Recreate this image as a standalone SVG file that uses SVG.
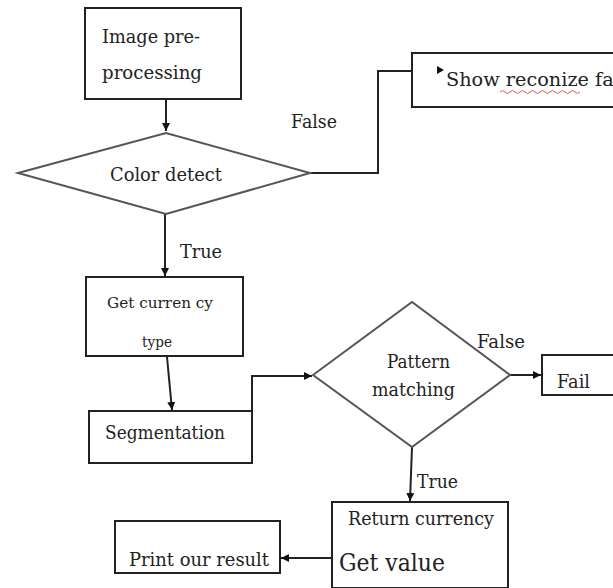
<svg xmlns="http://www.w3.org/2000/svg" width="613" height="588" viewBox="0 0 613 588">
<style>
.box{fill:#fff;stroke:#222;stroke-width:2}
.dia{fill:#fff;stroke:#555;stroke-width:2}
.ln{fill:none;stroke:#222;stroke-width:2}
.t{font-family:"DejaVu Serif","Liberation Serif",serif;font-size:18px;fill:#222}
</style>
<defs>
<marker id="ah" viewBox="0 0 10 10" refX="10" refY="5" markerWidth="8" markerHeight="8" markerUnits="userSpaceOnUse" orient="auto">
<path d="M0,0 L10,5 L0,10 z" fill="#111"/>
</marker>
</defs>
<rect width="613" height="588" fill="#fff"/>
<g id="connectors">
<path class="ln" d="M166,99 V131" marker-end="url(#ah)"/>
<path class="ln" d="M310,173 H378 V71 H412"/>
<path class="ln" d="M165,214 V276" marker-end="url(#ah)"/>
<path class="ln" d="M167,357 L172,410" marker-end="url(#ah)"/>
<path class="ln" d="M252,411 V376 H312" marker-end="url(#ah)"/>
<path class="ln" d="M510,375 H541" marker-end="url(#ah)"/>
<path class="ln" d="M412,447 L410,501" marker-end="url(#ah)"/>
<path class="ln" d="M332,558 H281" marker-end="url(#ah)"/>
<text class="t" x="291" y="128" textLength="46" lengthAdjust="spacingAndGlyphs">False</text>
<text class="t" x="180" y="258" textLength="42" lengthAdjust="spacingAndGlyphs">True</text>
<text class="t" x="477" y="348" textLength="48" lengthAdjust="spacingAndGlyphs">False</text>
<text class="t" x="417" y="488" textLength="41" lengthAdjust="spacingAndGlyphs">True</text>
</g>
<g id="preprocess">
<rect class="box" x="85" y="8" width="156" height="91"/>
<text class="t" x="102" y="43" textLength="98" lengthAdjust="spacingAndGlyphs">Image pre-</text>
<text class="t" x="102" y="79" textLength="100" lengthAdjust="spacingAndGlyphs">processing</text>
</g>
<g id="colordetect">
<polygon class="dia" points="18,173 166,133 310,173 166,214"/>
<text class="t" x="110" y="181" textLength="112" lengthAdjust="spacingAndGlyphs">Color detect</text>
</g>
<g id="showfail">
<rect class="box" x="412" y="53" width="210" height="54"/>
<polygon points="437,66 444,70 437,74" fill="#111"/>
<text class="t" x="446" y="86" textLength="180" lengthAdjust="spacingAndGlyphs">Show reconize fail</text>
<path d="M500,92 q2.5,-3 5,0 t5,0 t5,0 t5,0 t5,0 t5,0 t5,0 t5,0 t5,0 t5,0 t5,0 t5,0 t5,0 t5,0 t5,0 t5,0" fill="none" stroke="#d55" stroke-width="1"/>
</g>
<g id="currencytype">
<rect class="box" x="86" y="277" width="157" height="79"/>
<text class="t" x="107" y="308" style="font-size:15px" textLength="106" lengthAdjust="spacingAndGlyphs">Get  curren cy</text>
<text class="t" x="142" y="347" style="font-size:15px" textLength="30" lengthAdjust="spacingAndGlyphs">type</text>
</g>
<g id="segmentation">
<rect class="box" x="89" y="411" width="163" height="52"/>
<text class="t" x="105" y="439" textLength="120" lengthAdjust="spacingAndGlyphs">Segmentation</text>
</g>
<g id="pattern">
<polygon class="dia" points="313,375 412,302 510,375 412,447"/>
<text class="t" x="387" y="368" textLength="63" lengthAdjust="spacingAndGlyphs">Pattern</text>
<text class="t" x="372" y="396" textLength="83" lengthAdjust="spacingAndGlyphs">matching</text>
</g>
<g id="fail">
<rect class="box" x="542" y="355" width="80" height="40"/>
<text class="t" x="557" y="388" textLength="33" lengthAdjust="spacingAndGlyphs">Fail</text>
</g>
<g id="returncurrency">
<rect class="box" x="332" y="502" width="176" height="86"/>
<text class="t" x="348" y="525" textLength="146" lengthAdjust="spacingAndGlyphs">Return currency</text>
<text class="t" x="339" y="571" style="font-size:24px" textLength="106" lengthAdjust="spacingAndGlyphs">Get value</text>
</g>
<g id="print">
<rect class="box" x="115" y="521" width="165" height="52"/>
<text class="t" x="129" y="566" textLength="140" lengthAdjust="spacingAndGlyphs">Print our result</text>
</g>
</svg>
